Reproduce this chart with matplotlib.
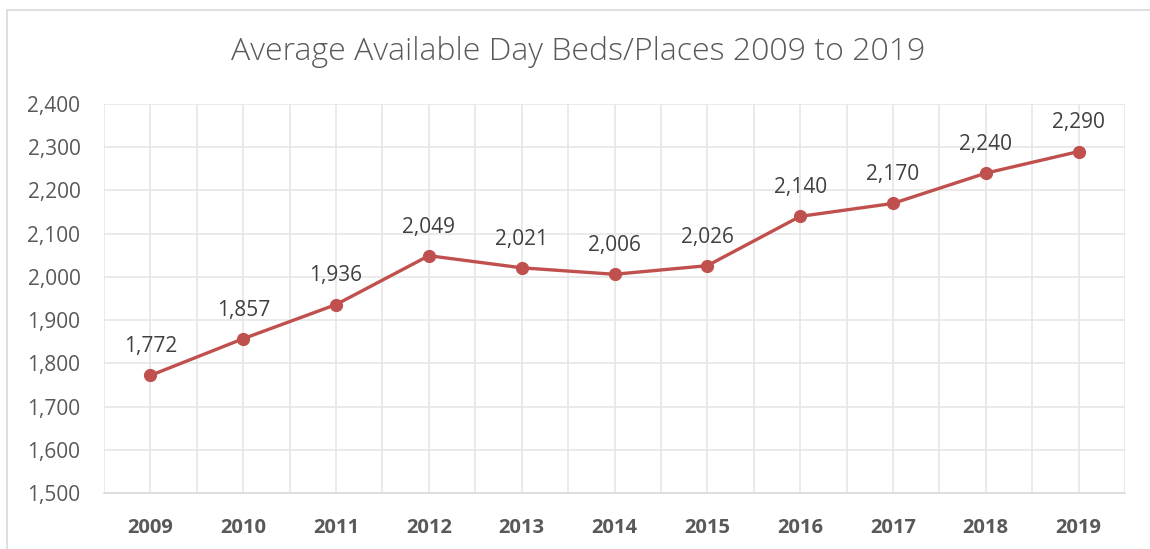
import matplotlib.pyplot as plt
from matplotlib.patches import Rectangle
from matplotlib.ticker import FuncFormatter, MultipleLocator

years = ['2009', '2010', '2011', '2012', '2013', '2014', '2015', '2016', '2017', '2018', '2019']
beds = [1772, 1857, 1936, 2049, 2021, 2006, 2026, 2140, 2170, 2240, 2290]

plt.rcParams['font.family'] = ['Open Sans', 'DejaVu Sans']

fig = plt.figure(figsize=(11.5, 5.49), dpi=100)
ax = fig.add_axes([104 / 1150, 1 - 493 / 549, (1125 - 104) / 1150, (493 - 104) / 549])

# outer chart frame (cut off at right and bottom)
fig.patches.append(Rectangle((7 / 1150, -0.1), 1.2, 1 - 10 / 549 + 0.1,
                             transform=fig.transFigure, fill=False,
                             edgecolor='#D9D9D9', linewidth=1.2, zorder=0))

x = list(range(len(years)))
ax.plot(x, beds, color='#C0504D', linewidth=2.4, marker='o', markersize=8.5,
        zorder=3, clip_on=False)

for xi, v in zip(x, beds):
    ax.annotate(f'{v:,}', (xi, v), xytext=(0, 13), textcoords='offset points',
                ha='center', va='bottom', fontsize=15, color='#404040')

ax.set_xlim(-0.5, len(years) - 0.5)
ax.set_ylim(1500, 2400)
ax.yaxis.set_major_locator(MultipleLocator(100))
ax.yaxis.set_major_formatter(FuncFormatter(lambda v, p: f'{int(v):,}'))
ax.set_xticks(x)
ax.set_xticklabels(years, fontweight='bold')
ax.set_xticks([i - 0.5 for i in range(len(years) + 1)], minor=True)

ax.grid(True, which='major', axis='both', color='#E6E6E6', linewidth=1.2)
ax.grid(True, which='minor', axis='x', color='#E6E6E6', linewidth=1.2)
ax.set_axisbelow(True)

for s in ['top', 'right', 'left']:
    ax.spines[s].set_visible(False)
ax.spines['bottom'].set_color('#D9D9D9')
ax.spines['bottom'].set_linewidth(1.2)

ax.tick_params(axis='both', which='both', length=0, colors='#595959')
ax.tick_params(axis='y', labelsize=15, pad=17)
ax.tick_params(axis='x', labelsize=14.5, pad=18)

fig.text(578 / 1150, 1 - 52 / 549, 'Average Available Day Beds/Places 2009 to 2019',
         ha='center', va='center', fontsize=23, color='#595959', fontweight='light')

fig.savefig('out.png', dpi=100)
